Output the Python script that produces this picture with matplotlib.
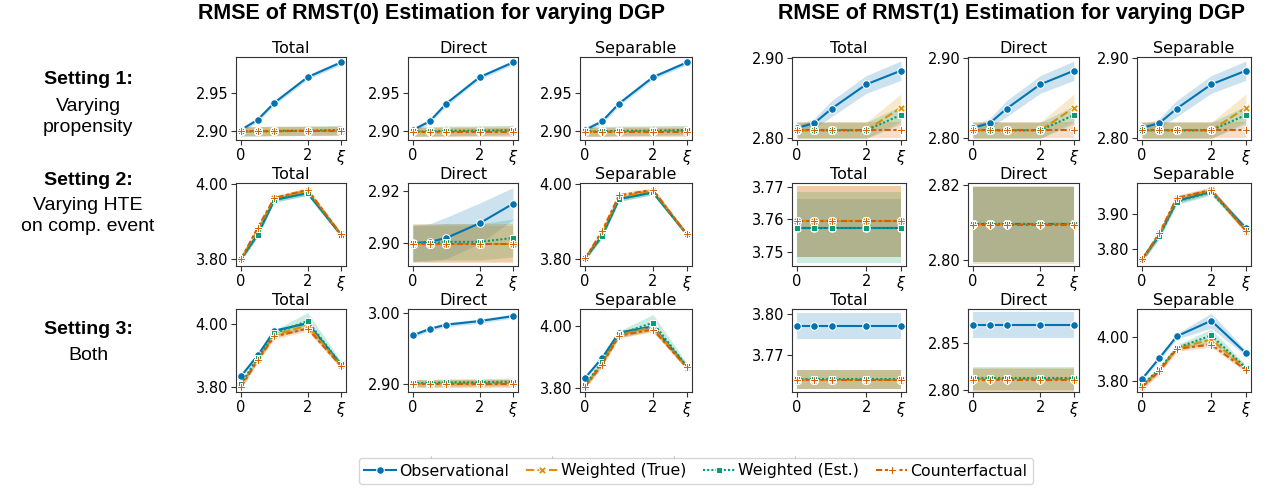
import matplotlib

matplotlib.use("Agg")
import matplotlib.pyplot as plt
from matplotlib.lines import Line2D
from matplotlib.ticker import FormatStrFormatter

# x positions of the xi grid; the last one is labelled with the greek letter
XI = [0, 0.5, 1, 2, 3]
XTICKS = [0, 2, 3]
XTICK_LABELS = ["0", "2", r"$\xi$"]

SERIES = ["Observational", "Weighted (True)", "Weighted (Est.)", "Counterfactual"]
COLORS = ["#0173b2", "#de8f05", "#029e73", "#d55e00"]
MARKERS = ["o", "X", "s", "P"]
MARKER_SIZES = [5.5, 5.5, 4.0, 6.0]
DASHES = [(None, None), (4, 1.5), (1, 1), (3, 1.25, 1.5, 1.25)]

COLUMNS = ["Total", "Direct", "Separable"]
SETTINGS = [
    ("Setting 1:", "Varying\npropensity"),
    ("Setting 2:", "Varying HTE\non comp. event"),
    ("Setting 3:", "Both"),
]

# ---- RMST(0), setting 1 ----
r0_s1_total_mean = [
    [2.902, 2.915, 2.937, 2.970, 2.989],
    [2.900, 2.900, 2.900, 2.901, 2.901],
    [2.900, 2.900, 2.901, 2.901, 2.902],
    [2.900, 2.900, 2.900, 2.900, 2.900],
]
r0_s1_total_err = [
    [0.003, 0.003, 0.003, 0.003, 0.003],
    [0.006, 0.006, 0.006, 0.006, 0.006],
    [0.006, 0.006, 0.006, 0.006, 0.006],
    [0.0055, 0.0055, 0.0055, 0.0055, 0.0055],
]
r0_s1_direct_mean = [
    [2.902, 2.913, 2.936, 2.970, 2.989],
    [2.900, 2.900, 2.900, 2.901, 2.901],
    [2.900, 2.900, 2.901, 2.901, 2.902],
    [2.899, 2.899, 2.899, 2.899, 2.899],
]
r0_s1_direct_err = r0_s1_total_err
r0_s1_sep_mean = r0_s1_direct_mean
r0_s1_sep_err = r0_s1_total_err

# ---- RMST(0), setting 2 ----
r0_s2_total_mean = [
    [3.800, 3.866, 3.958, 3.976, 3.865],
    [3.801, 3.878, 3.962, 3.983, 3.866],
    [3.800, 3.865, 3.958, 3.976, 3.865],
    [3.800, 3.884, 3.963, 3.985, 3.866],
]
r0_s2_total_err = [
    [0.006, 0.006, 0.006, 0.006, 0.006],
    [0.006, 0.006, 0.006, 0.006, 0.006],
    [0.006, 0.006, 0.006, 0.006, 0.006],
    [0.006, 0.006, 0.006, 0.006, 0.006],
]
r0_s2_direct_mean = [
    [2.900, 2.9005, 2.902, 2.9077, 2.9152],
    [2.8998, 2.8998, 2.8998, 2.8998, 2.8998],
    [2.900, 2.900, 2.9005, 2.9005, 2.902],
    [2.8998, 2.8998, 2.8998, 2.8998, 2.8998],
]
r0_s2_direct_err = [
    [0.007, 0.007, 0.008, 0.0078, 0.0062],
    [0.007, 0.007, 0.007, 0.007, 0.007],
    [0.007, 0.007, 0.007, 0.007, 0.0073],
    [0.0075, 0.0075, 0.0075, 0.0075, 0.0075],
]
r0_s2_sep_mean = [
    [3.802, 3.862, 3.960, 3.978, 3.866],
    [3.802, 3.870, 3.966, 3.983, 3.866],
    [3.802, 3.862, 3.960, 3.978, 3.866],
    [3.802, 3.875, 3.970, 3.985, 3.866],
]
r0_s2_sep_err = r0_s2_total_err

# ---- RMST(0), setting 3 ----
r0_s3_total_mean = [
    [3.834, 3.900, 3.978, 4.002, 3.871],
    [3.805, 3.888, 3.965, 3.995, 3.868],
    [3.810, 3.892, 3.970, 4.009, 3.872],
    [3.800, 3.885, 3.960, 3.985, 3.866],
]
r0_s3_total_err = [
    [0.006, 0.006, 0.006, 0.006, 0.006],
    [0.010, 0.010, 0.010, 0.010, 0.010],
    [0.008, 0.008, 0.010, 0.027, 0.010],
    [0.008, 0.008, 0.008, 0.008, 0.008],
]
r0_s3_direct_mean = [
    [2.968, 2.977, 2.983, 2.988, 2.995],
    [2.900, 2.900, 2.9005, 2.901, 2.901],
    [2.901, 2.901, 2.902, 2.902, 2.903],
    [2.900, 2.900, 2.900, 2.900, 2.900],
]
r0_s3_direct_err = [
    [0.003, 0.003, 0.003, 0.003, 0.003],
    [0.005, 0.005, 0.005, 0.005, 0.005],
    [0.005, 0.005, 0.005, 0.005, 0.005],
    [0.0055, 0.0055, 0.0055, 0.0055, 0.0055],
]
r0_s3_sep_mean = [
    [3.832, 3.897, 3.980, 4.000, 3.868],
    [3.806, 3.880, 3.972, 3.998, 3.866],
    [3.808, 3.885, 3.975, 4.012, 3.870],
    [3.803, 3.875, 3.970, 3.990, 3.866],
]
r0_s3_sep_err = r0_s3_total_err

# ---- RMST(1), setting 1 ----
r1_s1_total_mean = [
    [2.813, 2.819, 2.837, 2.867, 2.884],
    [2.810, 2.810, 2.810, 2.810, 2.838],
    [2.810, 2.810, 2.810, 2.810, 2.829],
    [2.810, 2.810, 2.810, 2.810, 2.810],
]
r1_s1_total_err = [
    [0.003, 0.006, 0.010, 0.011, 0.012],
    [0.010, 0.010, 0.010, 0.010, 0.017],
    [0.010, 0.010, 0.010, 0.010, 0.011],
    [0.010, 0.010, 0.010, 0.010, 0.010],
]
r1_s1_direct_mean = r1_s1_total_mean
r1_s1_direct_err = r1_s1_total_err
r1_s1_sep_mean = r1_s1_total_mean
r1_s1_sep_err = r1_s1_total_err

# ---- RMST(1), setting 2 ----
r1_s2_total_mean = [
    [3.7575, 3.7575, 3.7575, 3.7575, 3.7575],
    [3.7595, 3.7595, 3.7595, 3.7595, 3.7595],
    [3.7575, 3.7575, 3.7575, 3.7575, 3.7575],
    [3.7595, 3.7595, 3.7595, 3.7595, 3.7595],
]
r1_s2_total_err = [
    [0.009, 0.009, 0.009, 0.009, 0.009],
    [0.011, 0.011, 0.011, 0.011, 0.011],
    [0.011, 0.011, 0.011, 0.011, 0.011],
    [0.011, 0.011, 0.011, 0.011, 0.011],
]
r1_s2_direct_mean = [
    [2.8095, 2.8095, 2.8095, 2.8095, 2.8095],
    [2.8095, 2.8095, 2.8095, 2.8095, 2.8095],
    [2.8095, 2.8095, 2.8095, 2.8095, 2.8095],
    [2.8093, 2.8093, 2.8093, 2.8093, 2.8093],
]
r1_s2_direct_err = [
    [0.010, 0.010, 0.010, 0.010, 0.010],
    [0.010, 0.010, 0.010, 0.010, 0.010],
    [0.010, 0.010, 0.010, 0.010, 0.010],
    [0.0105, 0.0105, 0.0105, 0.0105, 0.0105],
]
r1_s2_sep_mean = [
    [3.772, 3.840, 3.937, 3.965, 3.860],
    [3.771, 3.844, 3.944, 3.968, 3.853],
    [3.772, 3.838, 3.935, 3.962, 3.856],
    [3.771, 3.846, 3.946, 3.969, 3.852],
]
r1_s2_sep_err = [
    [0.008, 0.008, 0.008, 0.008, 0.008],
    [0.008, 0.008, 0.008, 0.008, 0.008],
    [0.008, 0.008, 0.008, 0.008, 0.008],
    [0.008, 0.008, 0.008, 0.008, 0.008],
]

# ---- RMST(1), setting 3 ----
r1_s3_total_mean = [
    [3.7914, 3.7914, 3.7914, 3.7914, 3.7914],
    [3.752, 3.752, 3.752, 3.752, 3.752],
    [3.7522, 3.7522, 3.7522, 3.7522, 3.7522],
    [3.752, 3.752, 3.752, 3.752, 3.752],
]
r1_s3_total_err = [
    [0.0095, 0.0095, 0.0095, 0.0095, 0.0095],
    [0.007, 0.007, 0.007, 0.007, 0.007],
    [0.007, 0.007, 0.007, 0.007, 0.007],
    [0.007, 0.007, 0.007, 0.007, 0.007],
]
r1_s3_direct_mean = [
    [2.869, 2.869, 2.869, 2.869, 2.869],
    [2.8107, 2.8107, 2.8107, 2.8107, 2.8107],
    [2.812, 2.812, 2.812, 2.812, 2.812],
    [2.8097, 2.8097, 2.8097, 2.8097, 2.8097],
]
r1_s3_direct_err = [
    [0.0137, 0.0137, 0.0137, 0.0137, 0.0137],
    [0.012, 0.012, 0.012, 0.012, 0.012],
    [0.012, 0.012, 0.012, 0.012, 0.012],
    [0.012, 0.012, 0.012, 0.012, 0.012],
]
r1_s3_sep_mean = [
    [3.809, 3.905, 4.005, 4.077, 3.928],
    [3.775, 3.850, 3.950, 3.990, 3.857],
    [3.780, 3.855, 3.952, 4.009, 3.860],
    [3.770, 3.844, 3.947, 3.967, 3.850],
]
r1_s3_sep_err = [
    [0.008, 0.010, 0.012, 0.035, 0.012],
    [0.015, 0.015, 0.015, 0.015, 0.015],
    [0.010, 0.010, 0.012, 0.030, 0.012],
    [0.012, 0.012, 0.012, 0.012, 0.012],
]

# y ticks and y limits per panel, [setting][column]
r0_yticks = [
    [[2.90, 2.95], [2.90, 2.95], [2.90, 2.95]],
    [[3.80, 4.00], [2.90, 2.92], [3.80, 4.00]],
    [[3.80, 4.00], [2.90, 3.00], [3.80, 4.00]],
]
r0_ylims = [
    [(2.889, 2.996), (2.889, 2.996), (2.889, 2.996)],
    [(3.782, 4.003), (2.8912, 2.9232), (3.782, 4.003)],
    [(3.784, 4.047), (2.8883, 3.005), (3.786, 4.057)],
]
r1_yticks = [
    [[2.80, 2.90], [2.80, 2.90], [2.80, 2.90]],
    [[3.75, 3.76, 3.77], [2.80, 2.82], [3.80, 3.90]],
    [[3.77, 3.80], [2.80, 2.85], [3.80, 4.00]],
]
r1_ylims = [
    [(2.798, 2.901), (2.798, 2.901), (2.798, 2.901)],
    [(3.7456, 3.7713), (2.7984, 2.8205), (3.752, 3.9886)],
    [(3.743, 3.8037), (2.7974, 2.8857), (3.748, 4.131)],
]

R0_PANELS = [
    [(r0_s1_total_mean, r0_s1_total_err), (r0_s1_direct_mean, r0_s1_direct_err), (r0_s1_sep_mean, r0_s1_sep_err)],
    [(r0_s2_total_mean, r0_s2_total_err), (r0_s2_direct_mean, r0_s2_direct_err), (r0_s2_sep_mean, r0_s2_sep_err)],
    [(r0_s3_total_mean, r0_s3_total_err), (r0_s3_direct_mean, r0_s3_direct_err), (r0_s3_sep_mean, r0_s3_sep_err)],
]
R1_PANELS = [
    [(r1_s1_total_mean, r1_s1_total_err), (r1_s1_direct_mean, r1_s1_direct_err), (r1_s1_sep_mean, r1_s1_sep_err)],
    [(r1_s2_total_mean, r1_s2_total_err), (r1_s2_direct_mean, r1_s2_direct_err), (r1_s2_sep_mean, r1_s2_sep_err)],
    [(r1_s3_total_mean, r1_s3_total_err), (r1_s3_direct_mean, r1_s3_direct_err), (r1_s3_sep_mean, r1_s3_sep_err)],
]

W, H = 1286, 488
LEFT_COLS = [(236, 346), (408, 518), (580, 692)]
RIGHT_COLS = [(792, 906), (968, 1079), (1137, 1251)]
ROWS = [(57, 140), (183, 266), (309, 392)]


def px_axes(fig, x0, x1, y0, y1):
    """Add axes from pixel box (top-left origin)"""
    return fig.add_axes([x0 / W, 1 - y1 / H, (x1 - x0) / W, (y1 - y0) / H])


def draw_panel(ax, means, errs, title, yticks, ylim):
    """One small panel: 4 lines with shaded bands"""
    for i in range(len(SERIES)):
        lo = [m - e for m, e in zip(means[i], errs[i])]
        hi = [m + e for m, e in zip(means[i], errs[i])]
        ax.fill_between(XI, lo, hi, color=COLORS[i], alpha=0.2, linewidth=0)
        line, = ax.plot(
            XI, means[i], color=COLORS[i], marker=MARKERS[i], markersize=MARKER_SIZES[i],
            markeredgecolor="white", markeredgewidth=0.75, linewidth=1.5,
        )
        if DASHES[i][0] is not None:
            line.set_dashes(DASHES[i])
    ax.set_title(title, fontsize=11.5, pad=3)
    ax.set_xticks(XTICKS)
    ax.set_xticklabels(XTICK_LABELS)
    ax.set_yticks(yticks)
    ax.yaxis.set_major_formatter(FormatStrFormatter("%.2f"))
    ax.set_ylim(*ylim)
    ax.set_xlim(-0.15, 3.15)
    ax.tick_params(labelsize=10.5, pad=2, color="#333333")
    for s in ax.spines.values():
        s.set_color("#333333")


def main():
    fig = plt.figure(figsize=(W / 100, H / 100), dpi=100)

    for r, (y0, y1) in enumerate(ROWS):
        for c in range(3):
            ax = px_axes(fig, *LEFT_COLS[c], y0, y1)
            means, errs = R0_PANELS[r][c]
            draw_panel(ax, means, errs, COLUMNS[c], r0_yticks[r][c], r0_ylims[r][c])
            ax = px_axes(fig, *RIGHT_COLS[c], y0, y1)
            means, errs = R1_PANELS[r][c]
            draw_panel(ax, means, errs, COLUMNS[c], r1_yticks[r][c], r1_ylims[r][c])

    # group titles
    fig.text(432 / W, 1 - 13 / H, "RMSE of RMST(0) Estimation for varying DGP",
             ha="center", va="center", fontsize=15.5, fontweight="bold",
             family="Liberation Sans")
    fig.text(1012 / W, 1 - 13 / H, "RMSE of RMST(1) Estimation for varying DGP",
             ha="center", va="center", fontsize=15.5, fontweight="bold",
             family="Liberation Sans")

    # row labels
    label_y = [(80, 117), (180, 216), (330, 355)]
    for (bold, rest), (yb, yr) in zip(SETTINGS, label_y):
        fig.text(88 / W, 1 - yb / H, bold, ha="center", va="center",
                 fontsize=14, fontweight="bold", family="Liberation Sans")
        fig.text(88 / W, 1 - yr / H, rest, ha="center", va="center",
                 fontsize=14, family="Liberation Sans", linespacing=1.3)

    # faint leftover ticks above the legend
    tax = px_axes(fig, 431, 795, 455, 456)
    tax.set_xlim(0, 3)
    tax.set_xticks([0, 1, 2, 3])
    tax.set_xticklabels([])
    tax.set_yticks([])
    tax.tick_params(axis="x", length=2, color="#bbbbbb")
    for s in tax.spines.values():
        s.set_visible(False)
    tax.patch.set_alpha(0)

    handles = []
    for i, name in enumerate(SERIES):
        h = Line2D([], [], color=COLORS[i], marker=MARKERS[i], markersize=MARKER_SIZES[i],
                   markeredgecolor="white", markeredgewidth=0.75, linewidth=1.5)
        if DASHES[i][0] is not None:
            h.set_dashes(DASHES[i])
        handles.append(h)
    fig.legend(handles, SERIES, loc="center", bbox_to_anchor=(696 / W, 1 - 471 / H),
               ncol=4, fontsize=11.3, handlelength=2.0, handletextpad=0.2,
               columnspacing=1.1, borderpad=0.35, frameon=True)

    fig.savefig("out.png", dpi=100)
    plt.close(fig)


if __name__ == "__main__":
    main()
